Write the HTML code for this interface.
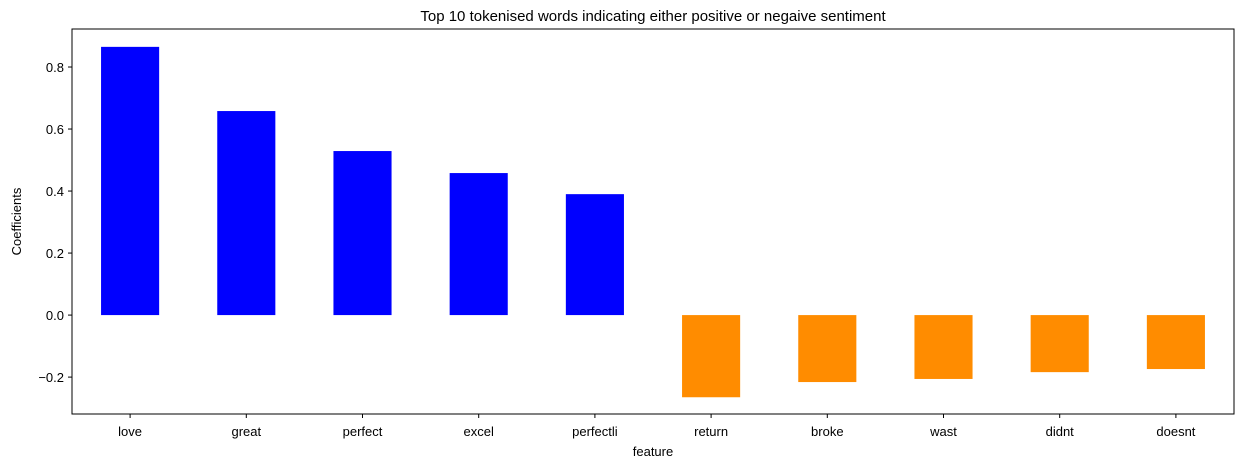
<!DOCTYPE html>
<html><head><meta charset="utf-8"><style>
body{margin:0;background:#fff;font-family:"Liberation Sans","DejaVu Sans",sans-serif;}
svg text{font-family:"Liberation Sans","DejaVu Sans",sans-serif;fill:#000;}
</style></head><body>
<svg id="chart" width="1245" height="468"></svg>
<script>
const categories=["love","great","perfect","excel","perfectli","return","broke","wast","didnt","doesnt"];
const values=[0.865,0.658,0.529,0.458,0.390,-0.265,-0.216,-0.206,-0.184,-0.174];
const yTicks=[-0.2,0.0,0.2,0.4,0.6,0.8];
const yTickLabels=["\u22120.2","0.0","0.2","0.4","0.6","0.8"];
const L=72,R=1234,T=29,B=414,yMin=-0.319,yMax=0.9226;
const svg=document.getElementById('chart');const NS="http://www.w3.org/2000/svg";
function y(v){return B-(v-yMin)/(yMax-yMin)*(B-T);}
const band=(R-L)/categories.length;
function xc(i){return L+band*(i+0.5);}
function mk(t,a,txt){const e=document.createElementNS(NS,t);for(const k in a)e.setAttribute(k,a[k]);if(txt!==undefined)e.textContent=txt;svg.appendChild(e);return e;}
let e=mk('text',{x:(L+R)/2,y:21,'text-anchor':'middle','font-size':15},'Top 10 tokenised words indicating either positive or negaive sentiment');


categories.forEach((c,i)=>{
 const v=values[i];const y0=y(0),y1=y(v);
 const r=mk('rect',{x:xc(i)-band/4,y:Math.min(y0,y1),width:band/2,height:Math.abs(y1-y0),fill:v>=0?'#0000ff':'#ff8c00'});
 
 
 mk('line',{x1:xc(i),x2:xc(i),y1:B,y2:B+4,stroke:'#000'});
 const t=mk('text',{x:xc(i),y:B+22,'text-anchor':'middle','font-size':13},c);
 
 
});
yTicks.forEach((v,i)=>{
 mk('line',{x1:L-4,x2:L,y1:y(v),y2:y(v),stroke:'#000'});
 const t=mk('text',{x:L-8,y:y(v)+5,'text-anchor':'end','font-size':13},yTickLabels[i]);
 
 
});
e=mk('rect',{x:L,y:T,width:R-L,height:B-T,fill:'none',stroke:'#000','stroke-width':1});


e=mk('text',{x:(L+R)/2,y:456,'text-anchor':'middle','font-size':13},'feature');


e=mk('text',{x:21,y:(T+B)/2,'text-anchor':'middle','font-size':13,transform:'rotate(-90 21 '+(T+B)/2+')'},'Coefficients');


</script>
</body></html>
